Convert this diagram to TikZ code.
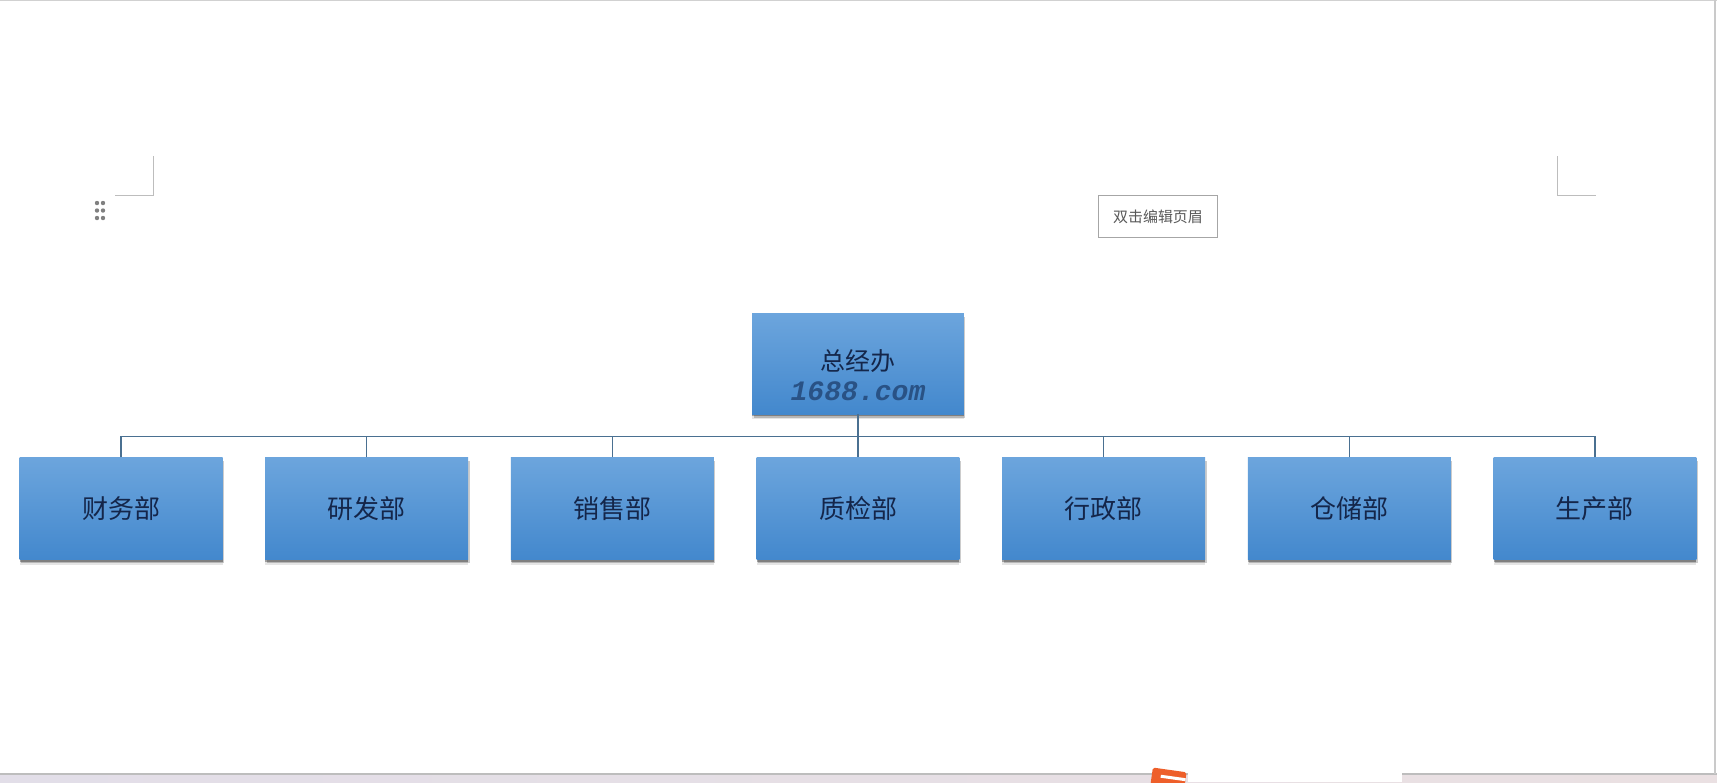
\documentclass[tikz,border=0pt]{standalone}
\usepackage{fontspec}
\setmainfont{Liberation Serif}
\newfontfamily\cjk{Noto Sans CJK SC}
\newfontfamily\markfont{Liberation Mono}
\usetikzlibrary{positioning, shadows}
\definecolor{boxtop}{HTML}{6CA5DD}
\definecolor{boxbottom}{HTML}{4388CD}
\definecolor{linkcolor}{HTML}{4A7091}
\definecolor{inkcolor}{HTML}{14264A}
\definecolor{cropgray}{HTML}{BDBDBD}
\definecolor{stripleft}{HTML}{E2DEE8}
\definecolor{stripright}{HTML}{EAE0E2}
\definecolor{logocolor}{HTML}{EE5F2A}
\tikzset{
  dept/.style={rectangle, minimum width=4.06cm, minimum height=2.04cm, inner sep=0pt, text centered, top color=boxtop, bottom color=boxbottom, text=inkcolor, font=\cjk\fontsize{14.8pt}{17pt}\selectfont,
    drop shadow={shadow xshift=0cm, shadow yshift=-0.10cm, fill=black, opacity=0.10},
    drop shadow={shadow xshift=0.03cm, shadow yshift=-0.07cm, fill=black, opacity=0.20},
    drop shadow={shadow xshift=0cm, shadow yshift=-0.04cm, fill=black, opacity=0.30}},
  head/.style={dept, font=\cjk\fontsize{14.2pt}{17pt}\selectfont, minimum width=4.24cm, minimum height=2.02cm},
  link/.style={draw=linkcolor, line width=0.9pt},
  crop/.style={draw=cropgray, line width=0.5pt}
}
\begin{document}
\begin{tikzpicture}[x=0.02cm, y=-0.02cm, node distance=0.86cm]
        \useasboundingbox (0,0) rectangle (1717,782);
        \clip (0,0) rectangle (1717,782);
        \fill [white] (0,0) rectangle (1717,782);

        % page furniture
        \shade [left color=stripleft, right color=stripright] (0,774) rectangle (1717,782);
        \draw [cropgray, line width=0.6pt] (0,774) -- (1717,774);
        \fill [white] (1188,773) rectangle (1402,782);
        \fill [logocolor, rounded corners=1pt, rotate around={-8:(1170,775)}] (1152,770) rectangle (1186,790);
        \fill [white, rotate around={-8:(1170,775)}] (1161,776) rectangle (1186,779);
        \draw [cropgray!70, line width=0.8pt] (0,0.5) -- (1717,0.5);
        \draw [cropgray!80, line width=1.1pt] (1715,0) -- (1715,774);

        % crop marks
        \draw [crop] (153,156) -- (153,195.5) -- (115,195.5);
        \draw [crop] (1557.5,156) -- (1557.5,195.5) -- (1596,195.5);
        \foreach \px in {97,103} {
          \foreach \py in {203,210.5,218} {
            \fill [gray] (\px,\py) circle (2.2);
          }
        }
        \node (header) [draw=gray!70, line width=0.5pt, minimum width=2.39cm, minimum height=0.85cm, inner sep=0pt, text=black!65, font=\cjk\fontsize{8.5pt}{10pt}\selectfont] at (1158,216.5) {双击编辑页眉};

        % chart
        \node (office) [head] at (858,363.5) {\raisebox{4pt}{总经办}};
        \node (mark) [text=inkcolor!55!boxbottom, font=\markfont\bfseries\itshape\fontsize{16pt}{18pt}\selectfont, inner sep=0pt] at (858,391) {1688.com};
        \node (quality) [dept, below=of office] {\raisebox{1pt}{质检部}};
        \node (sales) [dept, left=0.84cm of quality] {\raisebox{1pt}{销售部}};
        \node (research) [dept, left=0.84cm of sales] {\raisebox{1pt}{研发部}};
        \node (finance) [dept, left=0.84cm of research] {\raisebox{1pt}{财务部}};
        \node (admin) [dept, right=0.84cm of quality] {\raisebox{1pt}{行政部}};
        \node (storage) [dept, right=0.84cm of admin] {\raisebox{1pt}{仓储部}};
        \node (produce) [dept, right=0.84cm of storage] {\raisebox{1pt}{生产部}};
        \coordinate (bus) at ([yshift=-0.44cm]office.south);

        \draw [link] (office.south) -- (quality.north);
        \draw [link] (finance.north) |- (bus);
        \draw [link] (research.north) |- (bus);
        \draw [link] (sales.north) |- (bus);
        \draw [link] (admin.north) |- (bus);
        \draw [link] (storage.north) |- (bus);
        \draw [link] (produce.north) |- (bus);
    \end{tikzpicture}
\end{document}
